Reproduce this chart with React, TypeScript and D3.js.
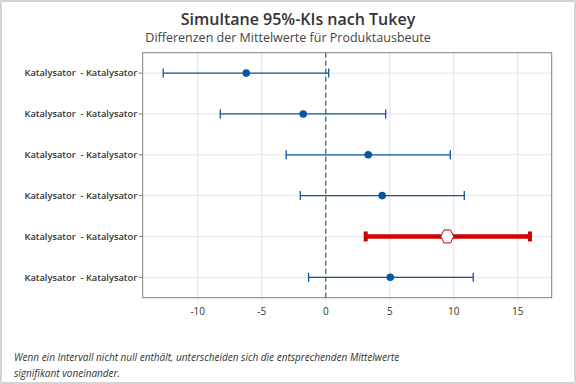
import * as React from "react";
import * as d3 from "d3";

const comparisons = [
  "Katalysator\u00a0 - Katalysator",
  "Katalysator\u00a0 - Katalysator",
  "Katalysator\u00a0 - Katalysator",
  "Katalysator\u00a0 - Katalysator",
  "Katalysator\u00a0 - Katalysator",
  "Katalysator\u00a0 - Katalysator",
];
const centers = [-6.21, -1.76, 3.32, 4.41, 9.49, 5.04];
const lowers = [-12.7, -8.24, -3.09, -1.99, 3.12, -1.34];
const uppers = [0.23, 4.68, 9.73, 10.82, 15.95, 11.52];
const xTicks = [-10, -5, 0, 5, 10, 15];

const W = 576;
const H = 384;
const FONT = "'Open Sans', 'Noto Sans', sans-serif";

export default function App() {
  const ref = React.useRef<SVGSVGElement | null>(null);

  React.useEffect(() => {
    if (!ref.current) return;
    const svg = d3.select(ref.current);
    svg.selectAll("*").remove();

    const left = 142.7;
    const right = 551.7;
    const top = 52.7;
    const bottom = 297.7;

    const x = d3.scaleLinear().domain([-14.3, 17.65]).range([left, right]);
    const y = d3
      .scalePoint<number>()
      .domain(d3.range(comparisons.length))
      .range([top, bottom])
      .padding(0.5);

    svg.append("rect").attr("width", W).attr("height", H).attr("fill", "#fff");
    svg
      .append("rect")
      .attr("x", 1)
      .attr("y", 1)
      .attr("width", W - 2)
      .attr("height", H - 2)
      .attr("fill", "none")
      .attr("stroke", "#d4d4d4")
      .attr("stroke-width", 2);

    // titles
    svg
      .append("text")
      .text("Simultane 95%-KIs nach Tukey")
      .attr("x", 298)
      .attr("y", 25)
      .attr("text-anchor", "middle")
      .attr("font-family", FONT)
      .attr("font-size", 16)
      .attr("font-weight", 600)
      .attr("fill", "#333");
    svg
      .append("text")
      .text("Differenzen der Mittelwerte für Produktausbeute")
      .attr("x", 288)
      .attr("y", 42)
      .attr("text-anchor", "middle")
      .attr("font-family", FONT)
      .attr("font-size", 12.5)
      .attr("fill", "#444");

    // grid
    xTicks.forEach((t) => {
      svg
        .append("line")
        .attr("x1", x(t))
        .attr("x2", x(t))
        .attr("y1", top)
        .attr("y2", bottom + 4)
        .attr("stroke", "#e3e3e3");
    });
    comparisons.forEach((_, i) => {
      svg
        .append("line")
        .attr("x1", left)
        .attr("x2", right)
        .attr("y1", y(i)!)
        .attr("y2", y(i)!)
        .attr("stroke", "#e3e3e3");
      svg
        .append("line")
        .attr("x1", left - 4)
        .attr("x2", left)
        .attr("y1", y(i)!)
        .attr("y2", y(i)!)
        .attr("stroke", "#7f7f7f");
      svg
        .append("text")
        .text(comparisons[i])
        .attr("x", left - 5.5)
        .attr("y", y(i)!)
        .attr("dy", "0.35em")
        .attr("text-anchor", "end")
        .attr("font-family", FONT)
        .attr("font-size", 9.3)
        .attr("font-weight", 600)
        .attr("fill", "#333");
    });

    // x tick labels
    xTicks.forEach((t) => {
      svg
        .append("text")
        .text(String(t))
        .attr("x", x(t))
        .attr("y", bottom + 17)
        .attr("text-anchor", "middle")
        .attr("font-family", FONT)
        .attr("font-size", 10)
        .attr("fill", "#333");
    });

    // zero reference line
    svg
      .append("line")
      .attr("x1", x(0))
      .attr("x2", x(0))
      .attr("y1", top)
      .attr("y2", bottom)
      .attr("stroke", "#17782a")
      .attr("stroke-width", 1.2)
      .attr("stroke-dasharray", "5,3");

    // intervals
    comparisons.forEach((_, i) => {
      const sig = lowers[i] > 0 || uppers[i] < 0;
      const cy = y(i)!;
      const color = sig ? "#cc0000" : "#0b56a4";
      const sw = sig ? 4.5 : 1.3;
      const cap = sig ? 5 : 4.5;
      const g = svg.append("g");
      g.append("line")
        .attr("x1", x(lowers[i]))
        .attr("x2", x(uppers[i]))
        .attr("y1", cy)
        .attr("y2", cy)
        .attr("stroke", color)
        .attr("stroke-width", sw);
      [lowers[i], uppers[i]].forEach((v) => {
        g.append("line")
          .attr("x1", x(v))
          .attr("x2", x(v))
          .attr("y1", cy - cap)
          .attr("y2", cy + cap)
          .attr("stroke", color)
          .attr("stroke-width", sig ? 4 : 1.3);
      });
      if (sig) {
        const s = 6.5;
        const cx = x(centers[i]);
        const pts = [
          [cx - s, cy],
          [cx - s / 2, cy - s],
          [cx + s / 2, cy - s],
          [cx + s, cy],
          [cx + s / 2, cy + s],
          [cx - s / 2, cy + s],
        ];
        g.append("polygon")
          .attr("points", pts.map((p) => p.join(",")).join(" "))
          .attr("fill", "#fff")
          .attr("stroke", color)
          .attr("stroke-width", 1);
      } else {
        g.append("circle")
          .attr("cx", x(centers[i]))
          .attr("cy", cy)
          .attr("r", 3.8)
          .attr("fill", color);
      }
    });

    // plot frame
    svg
      .append("rect")
      .attr("x", left)
      .attr("y", top)
      .attr("width", right - left)
      .attr("height", bottom - top)
      .attr("fill", "none")
      .attr("stroke", "#7f7f7f");

    // footnote
    const foot = [
      "Wenn ein Intervall nicht null enthält, unterscheiden sich die entsprechenden Mittelwerte",
      "signifikant voneinander.",
    ];
    foot.forEach((line, k) => {
      svg
        .append("text")
        .text(line)
        .attr("x", 14)
        .attr("y", 361 + k * 16)
        .attr("font-family", FONT)
        .attr("font-size", 10)
        .attr("font-style", "italic")
        .attr("fill", "#333");
    });
  }, []);

  return (
    <div style={{ position: "fixed", left: 0, top: 0 }}>
      <svg ref={ref} width={W} height={H} style={{ display: "block" }} />
    </div>
  );
}
